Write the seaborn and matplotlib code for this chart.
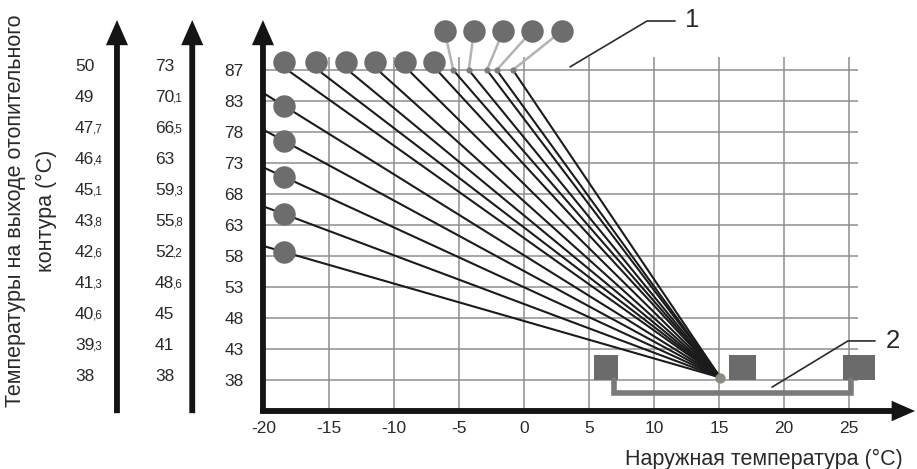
import numpy as np
import pandas as pd
import matplotlib
matplotlib.use("Agg")
import matplotlib.pyplot as plt
import seaborn as sns
from matplotlib.patches import Rectangle

# ---------------- data ----------------
supply_main = [38, 43, 48, 53, 58, 63, 68, 73, 78, 83, 87]
supply_mid = ["38", "41", "45", "48,6", "52,2", "55,8", "59,3", "63", "66,5", "70,1", "73"]
supply_low = ["38", "39,3", "40,6", "41,3", "42,6", "43,8", "45,1", "46,4", "47,7", "49", "50"]
outdoor_ticks = [-20, -15, -10, -5, 0, 5, 10, 15, 20, 25]

# curves that reach the top supply level (87): outdoor temperature at that point
top_curve_start = [-18.2, -15.85, -13.55, -11.25, -8.9, -6.7, -5.45, -4.25, -2.85, -2.1, -0.85]
top_knob_x = [-18.45, -16.0, -13.7, -11.45, -9.15, -6.9]
raised_knob_x = [-6.1, -3.85, -1.6, 0.6, 2.9]
raised_dot_x = [-5.45, -4.25, -2.85, -2.1, -0.85]
# curves starting on the left edge: supply temperature at the knob position
left_knob_x = -18.45
left_knob_supply = [82.2, 76.55, 70.75, 64.75, 58.65]
pivot_outdoor = 15.1
pivot_supply = 38.4

# ---------------- style ----------------
sns.set_style("white")
plt.rcParams["font.family"] = ["Liberation Sans", "DejaVu Sans"]
plt.rcParams["axes.unicode_minus"] = False
TXT = "#2a2a2a"
LINE = "#1b1b1b"
GRID = "#8e8e8e"
KNOB = "#6d6d6d"

rows = np.arange(len(supply_main))


def row(t):
    return np.interp(t, supply_main, rows)


fig = plt.figure(figsize=(9.17, 4.69), dpi=100)
ax = fig.add_axes([0, 0, 1, 1])
PX, PY = 13.0, 31.0          # pixels per unit (x) / per row (y)
ax.set_xlim(-20 - 264 / PX, -20 + (917 - 264) / PX)
ax.set_ylim(-89 / PY, 380 / PY)

for s in ax.spines.values():
    s.set_visible(False)
ax.spines["bottom"].set_position(("data", -1.0))
ax.spines["left"].set_position(("data", -20.08))

ax.set_xticks(outdoor_ticks)
ax.set_xticklabels([str(v) for v in outdoor_ticks])
ax.set_yticks(rows)
ax.set_yticklabels([str(v) for v in supply_main])
ax.tick_params(axis="x", length=0, pad=7, labelsize=12.5, labelcolor=TXT)
ax.tick_params(axis="y", length=0, pad=14, labelsize=12.5, labelcolor=TXT)
ax.grid(False)

# grid
ax.vlines(outdoor_ticks[1:], -1, 10.42, colors=GRID, lw=1.1, zorder=1)
ax.hlines(rows, -20, 25.7, colors=GRID, lw=1.1, zorder=1)

# heating curves
pr = row(pivot_supply)
recs = []
for i, xs in enumerate(top_curve_start):
    recs += [dict(curve=f"t{i}", x=xs, y=row(87)), dict(curve=f"t{i}", x=pivot_outdoor, y=pr)]
for i, ts in enumerate(left_knob_supply):
    rk = row(ts)
    slope = (pr - rk) / (pivot_outdoor - left_knob_x)
    y0 = rk + slope * (-20.0 - left_knob_x)
    recs += [dict(curve=f"l{i}", x=-20.0, y=y0), dict(curve=f"l{i}", x=pivot_outdoor, y=pr)]
curves = pd.DataFrame(recs)
sns.lineplot(data=curves, x="x", y="y", units="curve", estimator=None, sort=False,
             color=LINE, lw=1.5, legend=False, ax=ax, zorder=3)
ax.set_xlabel("")
ax.set_ylabel("")

# connectors for raised knobs
top_off = 8.5 / PY
raised_off = 39 / PY
for kx, dx in zip(raised_knob_x, raised_dot_x):
    ax.plot([kx, dx], [row(87) + raised_off, row(87)], color="#b3b3b3", lw=1.8, zorder=2)

knobs = pd.DataFrame({
    "x": list(top_knob_x) + list(raised_knob_x) + [left_knob_x] * len(left_knob_supply),
    "y": [row(87) + top_off] * len(top_knob_x) + [row(87) + raised_off] * len(raised_knob_x)
         + [row(t) for t in left_knob_supply],
})
sns.scatterplot(data=knobs, x="x", y="y", s=262, color=KNOB, linewidth=0, ax=ax, zorder=4)
dots = pd.DataFrame({"x": raised_dot_x, "y": [row(87)] * len(raised_dot_x)})
sns.scatterplot(data=dots, x="x", y="y", s=20, color="#7d7d7d", linewidth=0, ax=ax, zorder=4)
sns.scatterplot(x=[pivot_outdoor], y=[pr], s=55, color="#8a8a80", linewidth=0, ax=ax, zorder=4)
ax.set_xlabel("")
ax.set_ylabel("")

# device symbol (2)
for x0, x1 in [(5.38, 7.23), (15.77, 17.85), (24.54, 27.0)]:
    ax.add_patch(Rectangle((x0, 0), x1 - x0, 0.81, color="#6b6b6b", lw=0, zorder=2))
ax.plot([6.96, 6.96, 25.12, 25.12], [0, -0.42, -0.42, 0], color="#7a7a7a", lw=4,
        solid_joinstyle="miter", zorder=2)

# leaders and callout numbers
ax.plot([3.54, 9.46, 11.62], [10.1, 11.58, 11.58], color="#2a2a2a", lw=1.2, zorder=3)
ax.plot([19.08, 24.92, 27.0], [-0.23, 1.26, 1.26], color="#2a2a2a", lw=1.2, zorder=5)
ax.text(12.92, 11.69, "1", fontsize=18.5, color=TXT, ha="center", va="center_baseline")
ax.text(28.35, 1.34, "2", fontsize=18.5, color=TXT, ha="center", va="center_baseline")

# arrows (axes)
ARW = "#141414"
for ax_x in [-31.31, -25.52, -20.08]:
    ax.arrow(ax_x, -1.07, 0, 11.61 + 1.07, width=0.45, head_width=1.7, head_length=0.81,
             length_includes_head=True, fc=ARW, ec="none", zorder=6)
ax.arrow(-20.3, -1.0, 30.08 + 20.3, 0, width=0.19, head_width=0.66, head_length=1.8,
         length_includes_head=True, fc=ARW, ec="none", zorder=6)

# extra supply scales
def scale_label(x, r, label):
    parts = label.split(",")
    t = ax.text(x, r + 0.11, parts[0], fontsize=12.5, color=TXT, ha="left", va="center")
    if len(parts) > 1:
        ax.annotate("," + parts[1], xy=(1, 0), xycoords=t, xytext=(-0.8, 0.6),
                    textcoords="offset points", fontsize=8.5, color=TXT,
                    ha="left", va="bottom")

for r, lab in zip(rows, supply_low):
    scale_label(-34.54, r, lab)
for r, lab in zip(rows, supply_mid):
    scale_label(-28.38, r, lab)

# axis titles
fig.text(16 / 917, 1 - 211 / 469, "Температуры на выходе отопительного", rotation=90,
         ha="center", va="center", fontsize=15.5, color=TXT)
fig.text(46 / 917, 1 - 211 / 469, "контура (°C)", rotation=90,
         ha="center", va="center", fontsize=15.5, color=TXT)
fig.text(903 / 917, 4 / 469, "Наружная температура (°C)", ha="right", va="baseline",
         fontsize=15.5, color=TXT)

fig.savefig("out.png", dpi=100)
